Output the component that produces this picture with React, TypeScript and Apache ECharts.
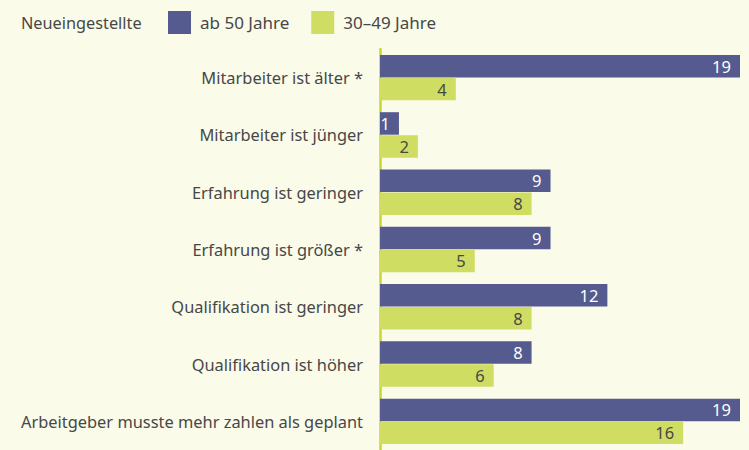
import React, { useEffect, useRef } from "react";
import * as echarts from "echarts";

const categories = [
  "Mitarbeiter ist älter *",
  "Mitarbeiter ist jünger",
  "Erfahrung ist geringer",
  "Erfahrung ist größer *",
  "Qualifikation ist geringer",
  "Qualifikation ist höher",
  "Arbeitgeber musste mehr zahlen als geplant",
];
const seriesNames = ["ab 50 Jahre", "30–49 Jahre"];
const over50 = [19, 1, 9, 9, 12, 8, 19];
const age30to49 = [4, 2, 8, 5, 8, 6, 16];
const legendTitle = "Neueingestellte";

const FONT = "Noto Sans";
const TEXT = "#474747";

export default function App() {
  const ref = useRef<HTMLDivElement>(null);
  useEffect(() => {
    const chart = echarts.init(ref.current!, undefined, { renderer: "svg" });
    chart.setOption({
      animation: false,
      backgroundColor: "#fafbe9",
      textStyle: { fontFamily: FONT },
      graphic: [
        {
          type: "text",
          x: 21,
          y: 23,
          style: {
            text: legendTitle,
            fontSize: 16.3,
            fill: TEXT,
            fontFamily: FONT,
            verticalAlign: "middle",
          },
        },
      ],
      legend: {
        left: 168,
        top: 11,
        padding: 0,
        itemWidth: 23,
        itemHeight: 23,
        itemGap: 22,
        icon: "rect",
        textStyle: { fontSize: 17, color: TEXT, fontFamily: FONT, padding: [0, 0, 0, 4] },
        data: seriesNames,
      },
      grid: { left: 380, right: 9, top: 49, bottom: -1, containLabel: false },
      xAxis: {
        type: "value",
        min: 0,
        max: 19,
        show: false,
      },
      yAxis: {
        type: "category",
        inverse: true,
        data: categories,
        axisLine: { show: true, lineStyle: { color: "#c6d733", width: 2.5 } },
        axisTick: { show: false },
        axisLabel: { fontSize: 16.4, color: TEXT, margin: 17, fontFamily: FONT },
      },
      series: [
        {
          name: seriesNames[0],
          type: "bar",
          data: over50,
          barWidth: 22.5,
          barGap: "2%",
          itemStyle: { color: "#555a8f" },
          label: {
            show: true,
            position: "insideRight",
            color: "#ffffff",
            fontSize: 16.5,
            fontFamily: FONT,
            distance: 9,
          },
        },
        {
          name: seriesNames[1],
          type: "bar",
          data: age30to49,
          barWidth: 22.5,
          barGap: "2%",
          itemStyle: { color: "#cfdd63" },
          label: {
            show: true,
            position: "insideRight",
            color: TEXT,
            fontSize: 16.5,
            fontFamily: FONT,
            distance: 9,
          },
        },
      ],
    });
    return () => chart.dispose();
  }, []);
  return (
    <div
      ref={ref}
      style={{ position: "absolute", left: 0, top: 0, width: 749, height: 450 }}
    />
  );
}
